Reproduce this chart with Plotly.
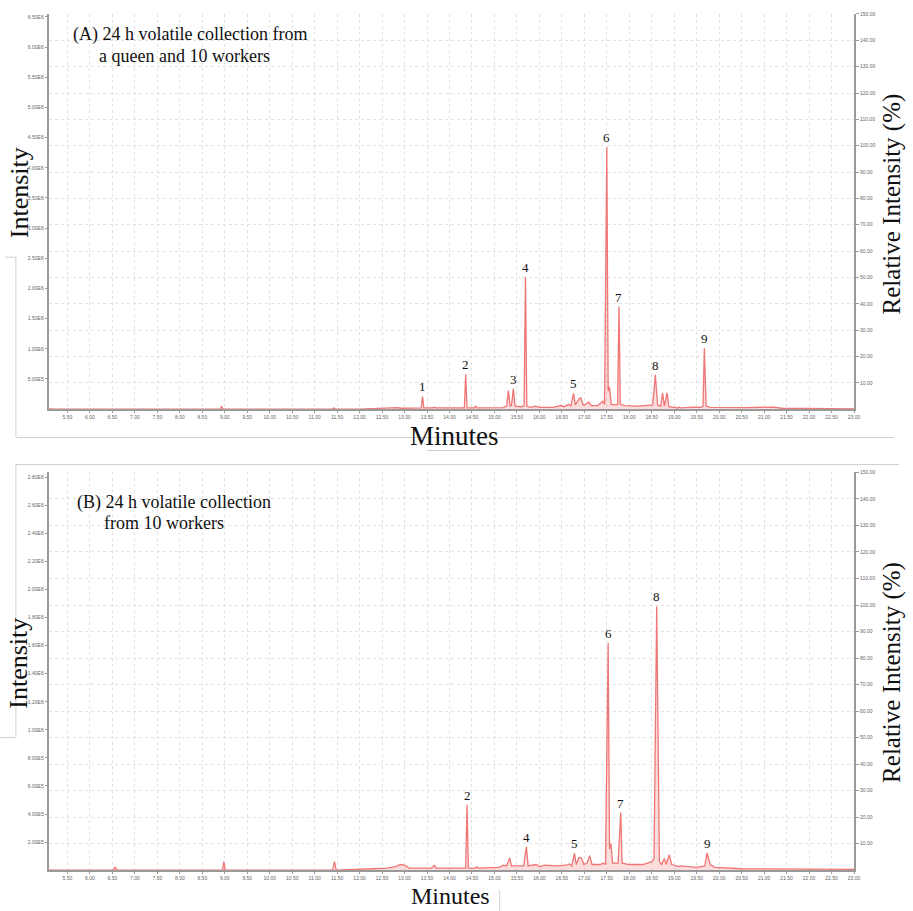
import plotly.graph_objects as go

W, H = 913, 911

# ---------------- data (intensity in units of 1e6 counts) ----------------
time_a = [5.10, 5.13, 5.20, 8.90, 8.93, 8.96, 11.40, 11.43, 11.46, 12.00, 12.30, 12.80, 12.85, 12.92,
          13.37, 13.40, 13.43, 13.60, 13.67, 13.70, 14.33, 14.36, 14.39, 14.55, 14.58, 14.61,
          15.20, 15.27, 15.31, 15.35, 15.38, 15.42, 15.46, 15.60, 15.66, 15.69, 15.72, 15.80,
          15.92, 16.00, 16.30, 16.48, 16.55, 16.65, 16.70, 16.76, 16.80, 16.88, 16.92, 16.97,
          17.03, 17.10, 17.15, 17.30, 17.41, 17.45, 17.50, 17.53, 17.56, 17.60, 17.70, 17.74,
          17.77, 17.80, 17.90, 18.20, 18.45, 18.48, 18.52, 18.58, 18.63, 18.70, 18.74, 18.78,
          18.84, 18.88, 19.00, 19.08, 19.11, 19.14, 19.42, 19.60, 19.64, 19.67, 19.71, 19.80,
          20.59, 21.20, 21.40, 22.00, 23.00]
int_a = [0.010, 0.005, 0.000, 0.000, 0.050, 0.000, 0.000, 0.020, 0.000, 0.000, 0.010, 0.015, 0.025, 0.015,
         0.020, 0.210, 0.020, 0.020, 0.030, 0.020, 0.020, 0.580, 0.020, 0.020, 0.050, 0.020,
         0.025, 0.050, 0.310, 0.050, 0.060, 0.340, 0.050, 0.040, 0.060, 2.190, 0.050, 0.030,
         0.050, 0.030, 0.030, 0.060, 0.040, 0.080, 0.050, 0.260, 0.070, 0.170, 0.190, 0.070,
         0.080, 0.120, 0.060, 0.060, 0.130, 0.080, 4.340, 0.300, 0.370, 0.080, 0.070, 0.080,
         1.700, 0.080, 0.060, 0.050, 0.060, 0.070, 0.070, 0.570, 0.070, 0.050, 0.270, 0.050,
         0.270, 0.040, 0.030, 0.020, 0.035, 0.020, 0.035, 0.030, 0.050, 1.010, 0.050, 0.030,
         0.025, 0.035, 0.015, 0.010, 0.005]

time_b = [5.10, 5.15, 6.52, 6.56, 6.60, 8.95, 8.98, 9.01, 11.40, 11.44, 11.48, 12.20, 12.30, 12.60,
          12.80, 12.90, 13.00, 13.10, 13.60, 13.67, 13.70, 14.04, 14.36, 14.39, 14.42, 14.58,
          14.61, 14.64, 15.10, 15.20, 15.27, 15.34, 15.38, 15.65, 15.71, 15.75, 15.93, 16.00,
          16.12, 16.40, 16.60, 16.67, 16.72, 16.78, 16.82, 16.88, 16.94, 16.99, 17.06, 17.12,
          17.17, 17.35, 17.42, 17.47, 17.53, 17.56, 17.59, 17.63, 17.75, 17.81, 17.84, 18.00,
          18.30, 18.50, 18.55, 18.61, 18.67, 18.72, 18.78, 18.82, 18.89, 18.94, 19.10, 19.13,
          19.50, 19.68, 19.73, 19.80, 19.90, 20.50, 23.00]
int_b = [0.005, 0.000, 0.000, 0.020, 0.000, 0.000, 0.060, 0.000, 0.000, 0.060, 0.000, 0.005, 0.010, 0.015,
         0.025, 0.040, 0.035, 0.015, 0.015, 0.035, 0.015, 0.015, 0.015, 0.466, 0.015, 0.015,
         0.025, 0.015, 0.020, 0.035, 0.030, 0.087, 0.030, 0.030, 0.167, 0.030, 0.040, 0.025,
         0.035, 0.030, 0.035, 0.044, 0.030, 0.120, 0.040, 0.090, 0.085, 0.040, 0.050, 0.103,
         0.040, 0.040, 0.050, 0.040, 1.620, 0.150, 0.190, 0.050, 0.050, 0.410, 0.050, 0.040,
         0.040, 0.060, 0.080, 1.880, 0.060, 0.040, 0.084, 0.040, 0.110, 0.040, 0.025, 0.030,
         0.020, 0.030, 0.122, 0.040, 0.020, 0.010, 0.005]

peak_lbl_a = ["1", "2", "3", "4", "5", "6", "7", "8", "9"]
peak_t_a = [13.40, 14.36, 15.42, 15.69, 16.76, 17.50, 17.77, 18.58, 19.67]
peak_i_a = [0.210, 0.580, 0.340, 2.190, 0.260, 4.340, 1.700, 0.570, 1.010]

peak_lbl_b = ["2", "4", "5", "6", "7", "8", "9"]
peak_t_b = [14.39, 15.71, 16.78, 17.53, 17.81, 18.61, 19.73]
peak_i_b = [0.466, 0.167, 0.120, 1.620, 0.410, 1.880, 0.122]

x_tick_vals = [5.5, 6.0, 6.5, 7.0, 7.5, 8.0, 8.5, 9.0, 9.5, 10.0, 10.5, 11.0, 11.5, 12.0, 12.5,
               13.0, 13.5, 14.0, 14.5, 15.0, 15.5, 16.0, 16.5, 17.0, 17.5, 18.0, 18.5, 19.0,
               19.5, 20.0, 20.5, 21.0, 21.5, 22.0, 22.5, 23.0]
left_ticks_a = [0.5, 1.0, 1.5, 2.0, 2.5, 3.0, 3.5, 4.0, 4.5, 5.0, 5.5, 6.0, 6.5]
left_ticks_b = [0.2, 0.4, 0.6, 0.8, 1.0, 1.2, 1.4, 1.6, 1.8, 2.0, 2.2, 2.4, 2.6, 2.8]
right_ticks = [10, 20, 30, 40, 50, 60, 70, 80, 90, 100, 110, 120, 130, 140, 150]

title_a = ["(A) 24 h volatile collection from", "a queen and 10 workers"]
title_b = ["(B) 24 h volatile collection", "from 10 workers"]

# ---------------- helpers ----------------
def sci(v):
    v = v * 1e6
    e = 0
    while v >= 10:
        v /= 10
        e += 1
    return f"{v:.2f}E{e}"

def px(x):
    return x / W

def py(y):
    return 1 - y / H

LINE = "rgb(240,118,118)"
FILL = "rgba(240,125,125,0.26)"
SERIF = "Liberation Serif, Times New Roman, serif"
SANS = "Liberation Sans, Arial, sans-serif"
TICKFONT = dict(family=SANS, size=5, color="#666")
AXCOL = "#9a9a9a"
GRIDCOL = "#e2e2e2"

fig = go.Figure()

fig.add_trace(go.Scatter(x=time_a, y=[v * 1e6 for v in int_a], mode="lines",
                         line=dict(color=LINE, width=1.3), fill="tozeroy", fillcolor=FILL,
                         xaxis="x", yaxis="y", showlegend=False, hoverinfo="skip"))
fig.add_trace(go.Scatter(x=time_a, y=[v / max(int_a) * 100 for v in int_a], mode="lines",
                         line=dict(color="rgba(0,0,0,0)", width=0),
                         xaxis="x", yaxis="y2", showlegend=False, hoverinfo="skip"))
fig.add_trace(go.Scatter(x=time_b, y=[v * 1e6 for v in int_b], mode="lines",
                         line=dict(color=LINE, width=1.3), fill="tozeroy", fillcolor=FILL,
                         xaxis="x2", yaxis="y3", showlegend=False, hoverinfo="skip"))
fig.add_trace(go.Scatter(x=time_b, y=[v / max(int_b) * 100 for v in int_b], mode="lines",
                         line=dict(color="rgba(0,0,0,0)", width=0),
                         xaxis="x2", yaxis="y4", showlegend=False, hoverinfo="skip"))

xdom = [49.8 / W, 859.9 / W]
dom_a = [py(407.5), py(11)]
dom_b = [py(870), py(471)]

xcommon = dict(range=[5.1, 23.005], domain=xdom, tickvals=x_tick_vals,
               ticktext=[f"{v:.2f}" for v in x_tick_vals], tickfont=TICKFONT,
               showline=True, linecolor=AXCOL, linewidth=1.5, ticks="outside", ticklen=2,
               tickcolor=AXCOL, showgrid=True, gridcolor=GRIDCOL, griddash="dot", gridwidth=1,
               zeroline=False, mirror=False)
left_common = dict(showline=True, linecolor=AXCOL, linewidth=1.5, ticks="outside", ticklen=3,
                   tickcolor=AXCOL, tickfont=TICKFONT, showgrid=False, zeroline=False)
right_common = dict(showline=True, linecolor=AXCOL, linewidth=1.5, ticks="outside", ticklen=3,
                    tickcolor=AXCOL, tickfont=TICKFONT, showgrid=True, gridcolor=GRIDCOL,
                    griddash="dot", gridwidth=1, zeroline=False, range=[0, 150],
                    tickvals=right_ticks, ticktext=[f"{v:.2f}" for v in right_ticks], side="right")

fig.update_layout(
    width=W, height=H, margin=dict(l=0, r=0, t=0, b=0),
    paper_bgcolor="white", plot_bgcolor="white", showlegend=False,
    xaxis=dict(anchor="y", **xcommon),
    yaxis=dict(anchor="x", domain=dom_a, range=[0, 6.55e6],
               tickvals=[v * 1e6 for v in left_ticks_a], ticktext=[sci(v) for v in left_ticks_a],
               **left_common),
    yaxis2=dict(anchor="x", overlaying="y", **right_common),
    xaxis2=dict(anchor="y3", **xcommon),
    yaxis3=dict(anchor="x2", domain=dom_b, range=[0, 2.835e6],
                tickvals=[v * 1e6 for v in left_ticks_b], ticktext=[sci(v) for v in left_ticks_b],
                **left_common),
    yaxis4=dict(anchor="x2", overlaying="y3", **right_common),
)

ann = []
for lbl, t, v in zip(peak_lbl_a, peak_t_a, peak_i_a):
    ann.append(dict(x=t, y=v * 1e6, xref="x", yref="y", text=lbl, showarrow=False,
                    yanchor="bottom", yshift=0, font=dict(family=SERIF, size=13, color="#111")))
for lbl, t, v in zip(peak_lbl_b, peak_t_b, peak_i_b):
    ann.append(dict(x=t, y=v * 1e6, xref="x2", yref="y3", text=lbl, showarrow=False,
                    yanchor="bottom", yshift=0, font=dict(family=SERIF, size=13, color="#111")))

def paper_text(text, x, y, size, angle=0, xanchor="center", yanchor="middle"):
    return dict(x=px(x), y=py(y), xref="paper", yref="paper", text=text, showarrow=False,
                textangle=angle, xanchor=xanchor, yanchor=yanchor, borderpad=0,
                font=dict(family=SERIF, size=size, color="#111"))

ann += [
    paper_text(title_a[0], 72, 32, 18, xanchor="left"),
    paper_text(title_a[1], 99, 53, 18, xanchor="left"),
    paper_text(title_b[0], 77, 501, 18, xanchor="left"),
    paper_text(title_b[1], 104, 522, 18, xanchor="left"),
    paper_text("Intensity", 19, 190, 26, angle=-90),
    paper_text("Intensity", 19, 662, 26, angle=-90),
    paper_text("Minutes", 458, 434, 27),
    paper_text("Minutes", 453, 910, 24, yanchor="bottom"),
    paper_text("Relative Intensity (%)", 898, 202, 25, angle=-90),
    paper_text("Relative Intensity (%)", 898, 672, 25, angle=-90),
]
fig.update_layout(annotations=ann)

SEP = dict(color="#cfcfcf", width=1)
def seg(x0, y0, x1, y1):
    return dict(type="line", xref="paper", yref="paper", x0=px(x0), y0=py(y0), x1=px(x1), y1=py(y1),
                line=SEP, layer="below")

fig.update_layout(shapes=[
    seg(5, 255, 16, 255), seg(16, 255, 16, 436), seg(16, 436, 900, 436),
    seg(16, 463, 905, 463), seg(16, 463, 16, 737), seg(0, 737, 16, 737),
    seg(430, 449, 483, 449), seg(503, 890, 503, 911),
])

fig.write_html("out.html", config={"displayModeBar": False},
               post_script="document.body.style.margin='0';document.body.style.overflow='hidden';")
